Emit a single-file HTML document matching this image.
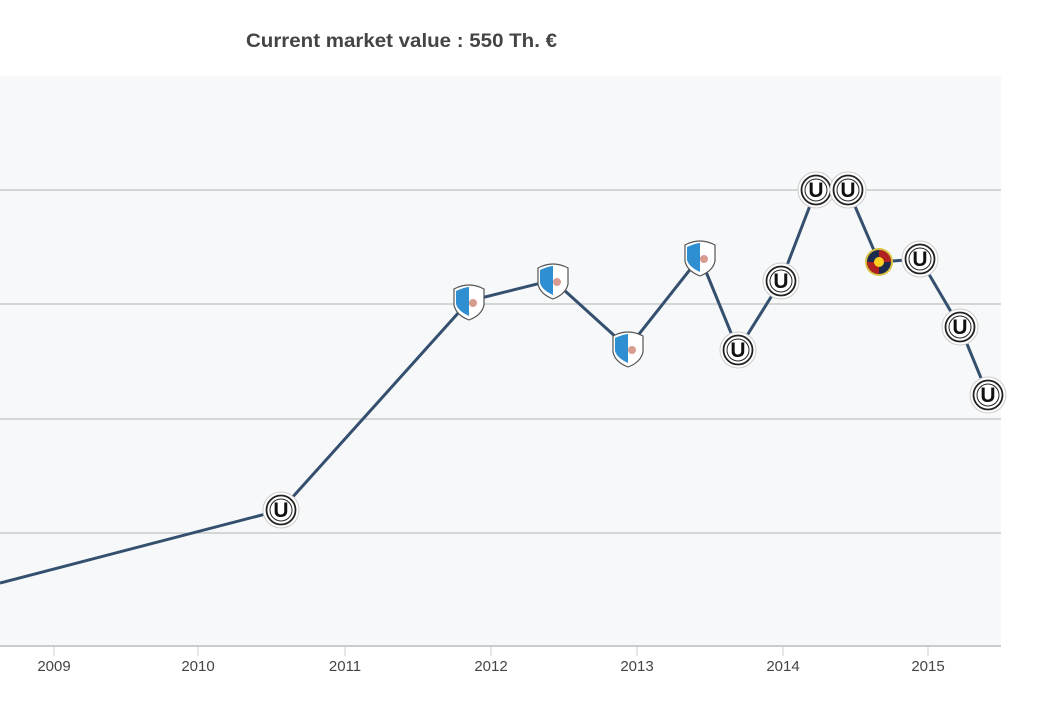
<!DOCTYPE html>
<html><head><meta charset="utf-8"><style>
body{margin:0;background:#fff;width:1050px;height:700px;overflow:hidden;font-family:"Liberation Sans",sans-serif}
</style></head><body>
<svg width="1050" height="700" xmlns="http://www.w3.org/2000/svg" font-family="Liberation Sans, sans-serif">
<defs>
<g id="u"><circle r="18" fill="#fff" stroke="#ccc" stroke-width="1"/><circle r="14.5" fill="#fff" stroke="#222" stroke-width="1.8"/><circle r="11" fill="#fff" stroke="#222" stroke-width="1"/><text y="7" text-anchor="middle" font-size="21" font-weight="bold" fill="#111">U</text></g>
<g id="s"><path d="M-15,-12 Q0,-20 15,-12 L15,4 Q13,14 0,19 Q-13,14 -15,4 Z" fill="#fff" stroke="#555" stroke-width="1.2"/><path d="M-13,-10 Q-4,-14 0,-14 L0,15 Q-11,10 -13,3 Z" fill="#2f8fd0"/><circle cx="4" cy="2" r="4" fill="#c87060" opacity="0.7"/></g>
<g id="f"><circle r="14" fill="#d8c040"/><circle r="12" fill="#1c2a50"/><path d="M0,-12 A12,12 0 0 1 12,0 L0,0Z M0,12 A12,12 0 0 1 -12,0 L0,0Z" fill="#b02020"/><circle r="5" fill="#ffd020"/></g>
</defs>
<text x="246" y="47" font-size="19" font-weight="bold" fill="#444" textLength="311" lengthAdjust="spacingAndGlyphs">Current market value : 550 Th. €</text>
<rect x="0" y="76" width="1001" height="570" fill="#f7f8f9"/>
<g stroke="#c0c0c0" stroke-width="1.2">
<line x1="0" y1="190" x2="1001" y2="190"/><line x1="0" y1="304" x2="1001" y2="304"/><line x1="0" y1="419" x2="1001" y2="419"/><line x1="0" y1="533" x2="1001" y2="533"/>
</g>
<line x1="0" y1="646" x2="1001" y2="646" stroke="#c8ccd0" stroke-width="2"/>
<g stroke="#c8ccd0"><line x1="54" y1="646" x2="54" y2="656"/><line x1="198" y1="646" x2="198" y2="656"/><line x1="345" y1="646" x2="345" y2="656"/><line x1="491" y1="646" x2="491" y2="656"/><line x1="637" y1="646" x2="637" y2="656"/><line x1="783" y1="646" x2="783" y2="656"/><line x1="928" y1="646" x2="928" y2="656"/></g>
<g font-size="15" fill="#444" text-anchor="middle"><text x="54" y="671">2009</text><text x="198" y="671">2010</text><text x="345" y="671">2011</text><text x="491" y="671">2012</text><text x="637" y="671">2013</text><text x="783" y="671">2014</text><text x="928" y="671">2015</text></g>
<polyline fill="none" stroke="#34506e" stroke-width="3" points="0,583 281,510 469,301 553,280 628,348 700,257 738,350 781,281 816,190 848,190 879,262 920,259 960,327 988,395"/>
<use href="#u" x="281" y="510"/>
<use href="#s" x="469" y="301"/><use href="#s" x="553" y="280"/><use href="#s" x="628" y="348"/><use href="#s" x="700" y="257"/>
<use href="#u" x="738" y="350"/><use href="#u" x="781" y="281"/><use href="#u" x="816" y="190"/><use href="#u" x="848" y="190"/>
<use href="#f" x="879" y="262"/>
<use href="#u" x="920" y="259"/><use href="#u" x="960" y="327"/><use href="#u" x="988" y="395"/>
</svg>
</body></html>
